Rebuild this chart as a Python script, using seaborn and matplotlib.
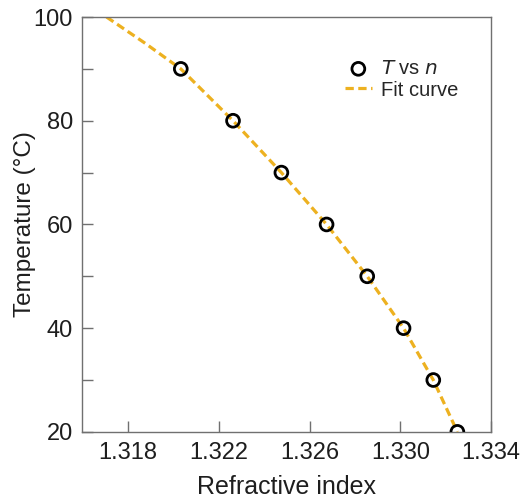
import pandas as pd
import matplotlib
matplotlib.use('Agg')
import matplotlib.pyplot as plt
from matplotlib.ticker import MultipleLocator
import seaborn as sns

refractive_index = [1.32033, 1.32263, 1.32476, 1.32675, 1.32854, 1.33014, 1.33145, 1.33251]
temperature = [90, 80, 70, 60, 50, 40, 30, 20]

# fit curve as drawn in the reference
fit_n = [1.31706, 1.31874, 1.32033, 1.32263, 1.32476, 1.32675, 1.32854, 1.33014, 1.33145, 1.33251]
fit_T = [100, 95, 90, 80, 70, 60, 50, 40, 30, 20]

x_ticks = [1.318, 1.322, 1.326, 1.330, 1.334]
y_ticks = [20, 40, 60, 80, 100]

df = pd.DataFrame({'n': refractive_index, 'T': temperature})
fit_df = pd.DataFrame({'n': fit_n, 'T': fit_T})

sns.set_theme(style="ticks")
plt.rcParams['font.family'] = ['Liberation Sans', 'DejaVu Sans']

fig = plt.figure(figsize=(5.22, 5.01), dpi=100)
ax = fig.add_axes([0.158, 0.138, 0.783, 0.828])

sns.lineplot(data=fit_df, x='n', y='T', ax=ax, color='#EDB120', linewidth=2.3,
             linestyle=(0, (2.6, 1.4)), label='Fit curve', sort=False, estimator=None)
sns.scatterplot(data=df, x='n', y='T', ax=ax, marker='o', s=85, facecolor='none',
                edgecolor='black', linewidth=2.0, label=r'$\it{T}$ vs $\it{n}$', zorder=3)

ax.set_xlim(1.316, 1.334)
ax.set_ylim(20, 100)
ax.set_xticks(x_ticks)
ax.set_xticklabels([f'{v:.3f}' for v in x_ticks])
ax.set_yticks(y_ticks)
ax.yaxis.set_minor_locator(MultipleLocator(10))

ax.tick_params(which='both', direction='in', length=8, width=1, color='#707070',
               labelsize=17, pad=7, labelcolor='#1e1e1e')
for s in ax.spines.values():
    s.set_color('#707070')
    s.set_linewidth(1)

ax.set_xlabel('Refractive index', fontsize=18, color='#1e1e1e', labelpad=8)
ax.set_ylabel('Temperature (°C)', fontsize=17.5, color='#1e1e1e', labelpad=-2)

h, l = ax.get_legend_handles_labels()
ax.legend(h[::-1], l[::-1], loc='upper left', bbox_to_anchor=(0.622, 0.918), borderaxespad=0,
          frameon=False, fontsize=14.5, handlelength=1.35, handletextpad=0.45,
          labelspacing=0.12)

fig.savefig('out.png', dpi=100)
